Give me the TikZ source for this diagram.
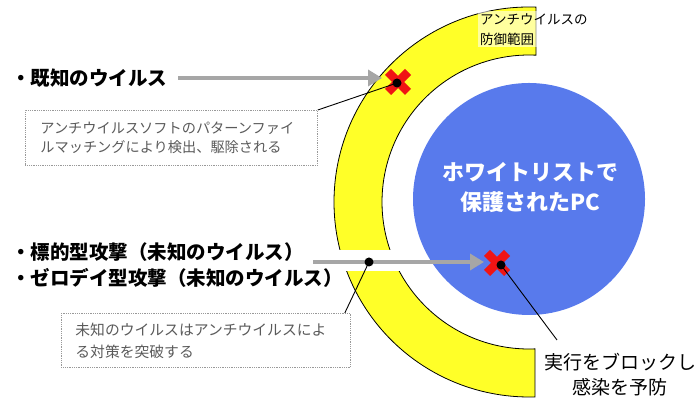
\documentclass[tikz,border=0pt]{standalone}
\usepackage{fontspec}
\setmainfont{Noto Sans CJK JP}
\usetikzlibrary{arrows.meta,calc}
\definecolor{bandyellow}{RGB}{255,255,40}
\definecolor{pcblue}{RGB}{88,122,236}
\definecolor{arrowgray}{RGB}{166,166,166}
\definecolor{xred}{RGB}{240,20,20}
\definecolor{notegray}{RGB}{90,90,90}
\tikzset{
  bigarrow/.style={arrowgray, line width=4.5pt, -{Triangle[length=14pt,width=16pt]}},
  notebox/.style={draw=gray!80, densely dotted, line width=0.8pt, text=notegray, align=left, inner ysep=0pt, anchor=north west},
  biglabel/.style={anchor=west, font=\fontsize{19.5}{24}\selectfont\bfseries, inner sep=0pt},
  leader/.style={black, line width=0.9pt},
  blackdot/.style={circle, fill=black, inner sep=0pt, minimum size=9pt},
  redx/.pic={\draw[xred, line width=8.5pt] (-10,-10) -- (10,10) (-10,10) -- (10,-10);}
}
\begin{document}
\begin{tikzpicture}[x=1pt,y=1pt]
\useasboundingbox (0,0) rectangle (699,398);
% yellow band
\coordinate (C) at (529,196);
\fill[bandyellow, draw=black, line width=0.8pt]
  ($(C)+(87.94:195)$) arc[start angle=87.94, end angle=271.76, radius=195]
  -- ($(C)+(272.34:147)$) arc[start angle=272.34, end angle=87.27, radius=147] -- cycle;
\fill[white] (318,127) rectangle (402,148);
% protected PC
\node[circle, fill=pcblue, minimum size=232pt, inner sep=0pt] (pc) at (529,199) {};
\node[text=white, font=\fontsize{22}{30}\selectfont\bfseries, align=center] (pctext) at (530,211) {ホワイトリストで\\保護されたPC};
% defense label
\node[anchor=north west, fill=white, fill opacity=0.55, text opacity=1, inner sep=2pt,
      font=\fontsize{13.5}{20}\selectfont, align=left] (deflabel) at (478,387) {アンチウイルスの\\防御範囲};
% known virus
\node[biglabel] (known) at (11,320) {・既知のウイルス};
\coordinate (a1s) at (178,320);
\coordinate (a1e) at (382,320);
\draw[bigarrow] (a1s) -- (a1e);
\pic at (398,316) {redx};
\node[blackdot] (dot1) at (397,315) {};
\node[notebox, inner xsep=15pt, text width=262pt, minimum height=55pt, font=\fontsize{14.2}{18.5}\selectfont] (box1) at (25,288) {アンチウイルスソフトのパターンファイ\\ルマッチングにより検出、駆除される};
\draw[leader] (box1.north east) -- (dot1.center);
% unknown
\node[biglabel] (target) at (11,146) {・標的型攻撃（未知のウイルス）};
\node[biglabel] (zeroday) at (11,120) {・ゼロデイ型攻撃（未知のウイルス）};
\coordinate (a2s) at (313,136);
\coordinate (a2e) at (484,136);
\draw[bigarrow] (a2s) -- (a2e);
\node[blackdot] (dot2) at (369,136) {};
\node[notebox, inner xsep=14pt, text width=261pt, minimum height=54pt, font=\fontsize{14.8}{22}\selectfont] (box2) at (61,85) {未知のウイルスはアンチウイルスによ\\る対策を突破する};
\draw[leader] ([xshift=-6pt]box2.north east) -- (dot2.center);
\pic at (497,135) {redx};
\node[blackdot] (dot3) at (501,133) {};
\node[font=\fontsize{19}{25}\selectfont, align=center] (block) at (620,23) {実行をブロックし\\感染を予防};
\coordinate (blockend) at (557,58);
\draw[leader] (dot3.center) -- (blockend);
\end{tikzpicture}
\end{document}
